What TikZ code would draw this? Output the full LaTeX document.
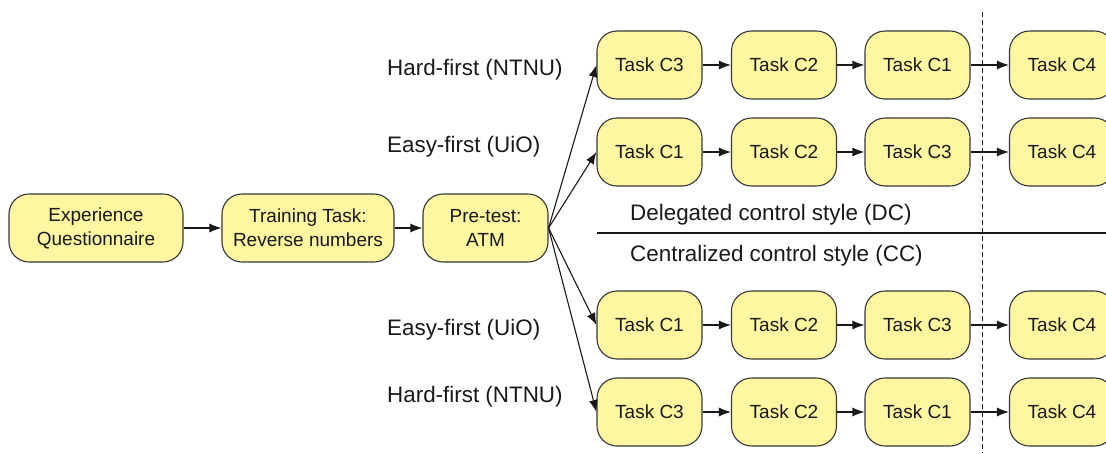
\documentclass[tikz,border=0pt]{standalone}
\usepackage{fontspec}
\setmainfont{Liberation Sans}
\usetikzlibrary{arrows.meta}
\definecolor{boxfill}{RGB}{255,246,162}
\definecolor{boxline}{RGB}{55,55,55}
\definecolor{inkc}{RGB}{25,25,25}
\begin{document}
\begin{tikzpicture}[x=1pt,y=-1pt,
  box/.style={draw=boxline, fill=boxfill, rounded corners=20pt, minimum height=68pt,
    line width=1.1pt, align=center, inner sep=0pt, text=inkc,
    font=\fontsize{19}{24}\selectfont},
  task/.style={box, minimum width=105pt},
  lbl/.style={inner sep=0pt, anchor=west, text=inkc, font=\fontsize{22.4}{27}\selectfont},
  arr/.style={draw=inkc, line width=1.1pt, -{Latex[length=12pt,width=9pt]}},
  divider/.style={draw=inkc, line width=1.1pt}]
\useasboundingbox (0,0) rectangle (1106,453);
\clip (0,0) rectangle (1106,453);
% left chain
\node[box, minimum width=174pt] (exp) at (96,228) {Experience\\Questionnaire};
\node[box, minimum width=172pt] (train) at (308,228) {Training Task:\\Reverse numbers};
\node[box, minimum width=125pt] (pre) at (485.5,228) {Pre-test:\\ATM};
\draw[arr] (exp) -- (train);
\draw[arr] (train) -- (pre);
% divider lines
\coordinate (dtop) at (982,12);
\coordinate (dbot) at (982,453);
\draw[divider, line width=0.9pt, dash pattern=on 5pt off 3pt] (dtop) -- (dbot);
\coordinate (hl) at (597,233);
\coordinate (hr) at (1106,233);
\draw[divider] (hl) -- (hr);
\node[lbl] (dc) at (630,215) {Delegated control style (DC)};
\node[lbl] (cc) at (630,256) {Centralized control style (CC)};
% rows
\foreach \r/\y/\a/\b/\c in {1/65/C3/C2/C1, 2/152/C1/C2/C3, 3/325/C1/C2/C3, 4/412/C3/C2/C1}{
  \node[task] (r\r c1) at (649.5,\y) {Task \a};
  \node[task] (r\r c2) at (784,\y) {Task \b};
  \node[task] (r\r c3) at (917.5,\y) {Task \c};
  \node[task] (r\r c4) at (1062,\y) {Task C4};
  \draw[arr] (r\r c1) -- (r\r c2);
  \draw[arr] (r\r c2) -- (r\r c3);
  \draw[arr] (r\r c3) -- (r\r c4);
  \draw[arr] (pre.east) -- (r\r c1.west);
}
\node[lbl] (l1) at (387,70) {Hard-first (NTNU)};
\node[lbl] (l2) at (387,147) {Easy-first (UiO)};
\node[lbl] (l3) at (387,330) {Easy-first (UiO)};
\node[lbl] (l4) at (387,397) {Hard-first (NTNU)};
\end{tikzpicture}
\end{document}
